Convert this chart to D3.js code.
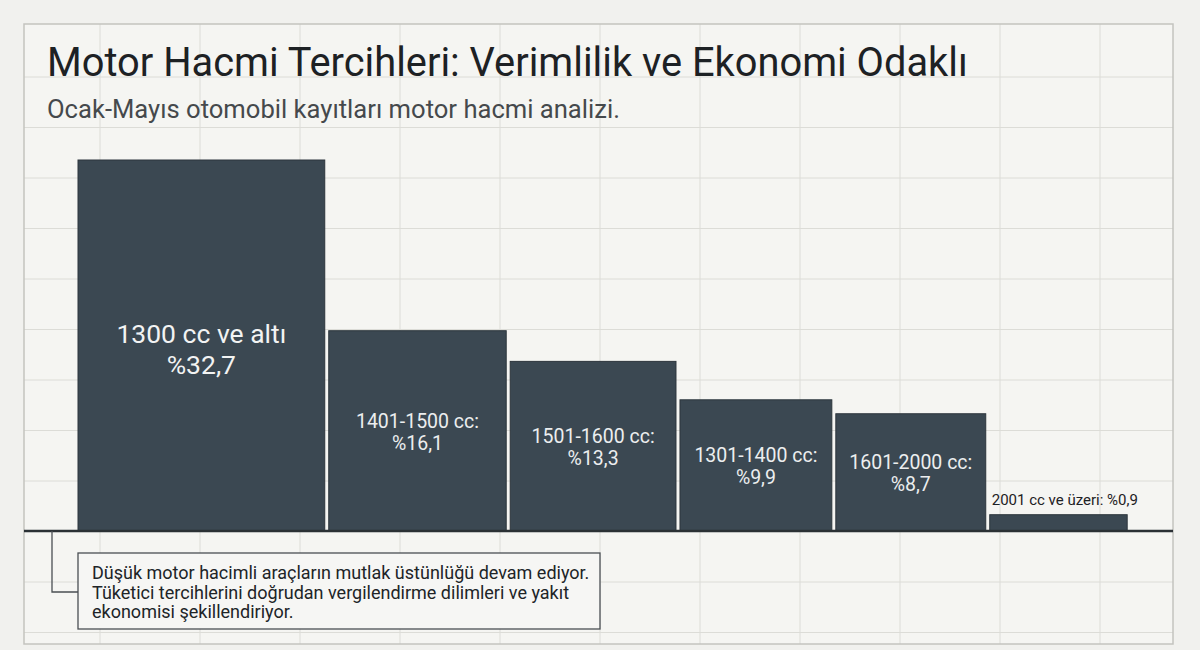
<!DOCTYPE html>
<html>
<head>
<meta charset="utf-8">
<script src="https://cdn.jsdelivr.net/npm/d3@7"></script>
<style>
    body { margin: 0; background: #f1f1ee; }
    svg { display: block; }
    text { font-family: Roboto, Inter, "Noto Sans", sans-serif; }
</style>
</head>
<body>
<svg id="drawing_region"></svg>
<script>
// data
const categories = ["1300 cc ve altı", "1401-1500 cc", "1501-1600 cc", "1301-1400 cc", "1601-2000 cc", "2001 cc ve üzeri"];
const shares = [32.7, 16.1, 13.3, 9.9, 8.7, 0.9];
const title = "Motor Hacmi Tercihleri: Verimlilik ve Ekonomi Odaklı";
const subtitle = "Ocak-Mayıs otomobil kayıtları motor hacmi analizi.";
const noteLines = [
    "Düşük motor hacimli araçların mutlak üstünlüğü devam ediyor.",
    "Tüketici tercihlerini doğrudan vergilendirme dilimleri ve yakıt",
    "ekonomisi şekillendiriyor."
];

const config = {
    width: 1200,
    height: 650,
    frame: {left: 24, top: 24, right: 1173, bottom: 644},
    baseline: 531,
    barTop: 160,
    barStart: 78,
    gap: 4
};

const trLocale = d3.formatLocale({decimal: ",", thousands: ".", grouping: [3], currency: ["", "₺"]});
const pct = v => "%" + trLocale.format(".1f")(v);

const svg = d3.select('#drawing_region')
    .attr('width', config.width)
    .attr('height', config.height);

const f = config.frame;

// frame + faint grid
svg.append('rect')
    .attr('x', f.left).attr('y', f.top)
    .attr('width', f.right - f.left).attr('height', f.bottom - f.top)
    .attr('fill', '#f5f5f2');

const grid = svg.append('g')
    .attr('stroke', '#dcdcd7')
    .attr('stroke-width', 1);

grid.selectAll('line.v')
    .data(d3.range(100, f.right, 100))
    .join('line')
    .attr('class', 'v')
    .attr('x1', d => d).attr('x2', d => d)
    .attr('y1', f.top).attr('y2', f.bottom);

grid.selectAll('line.h')
    .data(d3.range(77, f.bottom, 50.5))
    .join('line')
    .attr('class', 'h')
    .attr('x1', f.left).attr('x2', f.right)
    .attr('y1', d => d).attr('y2', d => d);

svg.append('rect')
    .attr('x', f.left).attr('y', f.top)
    .attr('width', f.right - f.left).attr('height', f.bottom - f.top)
    .attr('fill', 'none')
    .attr('stroke', '#c3c3bf')
    .attr('stroke-width', 1.5);

// titles
svg.append('text')
    .attr('x', 47).attr('y', 76)
    .attr('font-size', 39.8)
    .attr('fill', '#1d2124')
    .text(title);

svg.append('text')
    .attr('x', 47).attr('y', 118)
    .attr('font-size', 25.6)
    .attr('fill', '#45494c')
    .text(subtitle);

// scales
const yscale = d3.scalePow().exponent(0.87)
    .domain([0, d3.max(shares)])
    .range([config.baseline, config.barTop]);

const wscale = d3.scaleLinear()
    .domain([0, 10, 33])
    .range([136, 152, 248]);

const widths = shares.map(v => wscale(v));
const starts = widths.map((w, i) => config.barStart + d3.sum(widths.slice(0, i)) + i * config.gap);

const data = categories.map((c, i) => ({cat: c, v: shares[i], x: starts[i], w: widths[i], i: i}));

const chart = svg.append('g');

chart.selectAll('rect.bar')
    .data(data)
    .join('rect')
    .attr('class', 'bar')
    .attr('x', d => d.x)
    .attr('y', d => yscale(d.v))
    .attr('width', d => d.w)
    .attr('height', d => config.baseline - yscale(d.v))
    .attr('fill', '#3b4852')
    .attr('stroke', '#2c353c')
    .attr('stroke-width', 1);

// labels
data.forEach(d => {
    const cx = d.x + d.w / 2;
    const cy = (yscale(d.v) + config.baseline) / 2;
    if (d.i === 0) {
        const t = chart.append('text')
            .attr('text-anchor', 'middle')
            .attr('fill', '#f2f3f3')
            .attr('font-size', 26.5);
        t.append('tspan').attr('x', cx).attr('y', cy - 3).text(d.cat);
        t.append('tspan').attr('x', cx).attr('y', cy + 28).text(pct(d.v));
    } else if (d.v < 2) {
        chart.append('text')
            .attr('x', d.x + 2)
            .attr('y', yscale(d.v) - 10)
            .attr('font-size', 15)
            .attr('fill', '#1d2124')
            .text(d.cat + ": " + pct(d.v));
    } else {
        const t = chart.append('text')
            .attr('text-anchor', 'middle')
            .attr('fill', '#eceeef')
            .attr('font-size', 19.5);
        t.append('tspan').attr('x', cx).attr('y', cy - 3).text(d.cat + ":");
        t.append('tspan').attr('x', cx).attr('y', cy + 19).text(pct(d.v));
    }
});

// baseline
svg.append('line')
    .attr('x1', f.left).attr('x2', f.right)
    .attr('y1', config.baseline).attr('y2', config.baseline)
    .attr('stroke', '#2b3135')
    .attr('stroke-width', 2.5);

// annotation
const note = svg.append('g');
note.append('path')
    .attr('d', `M52,${config.baseline} V592 H78`)
    .attr('fill', 'none')
    .attr('stroke', '#4a4f53')
    .attr('stroke-width', 1.3);

note.append('rect')
    .attr('x', 78).attr('y', 553)
    .attr('width', 522).attr('height', 76)
    .attr('fill', '#f6f6f4')
    .attr('stroke', '#4a4f53')
    .attr('stroke-width', 1.3);

note.selectAll('text')
    .data(noteLines)
    .join('text')
    .attr('x', 92)
    .attr('y', (d, i) => 579 + i * 19.5)
    .attr('font-size', 18)
    .attr('fill', '#202427')
    .text(d => d);
</script>
</body>
</html>
